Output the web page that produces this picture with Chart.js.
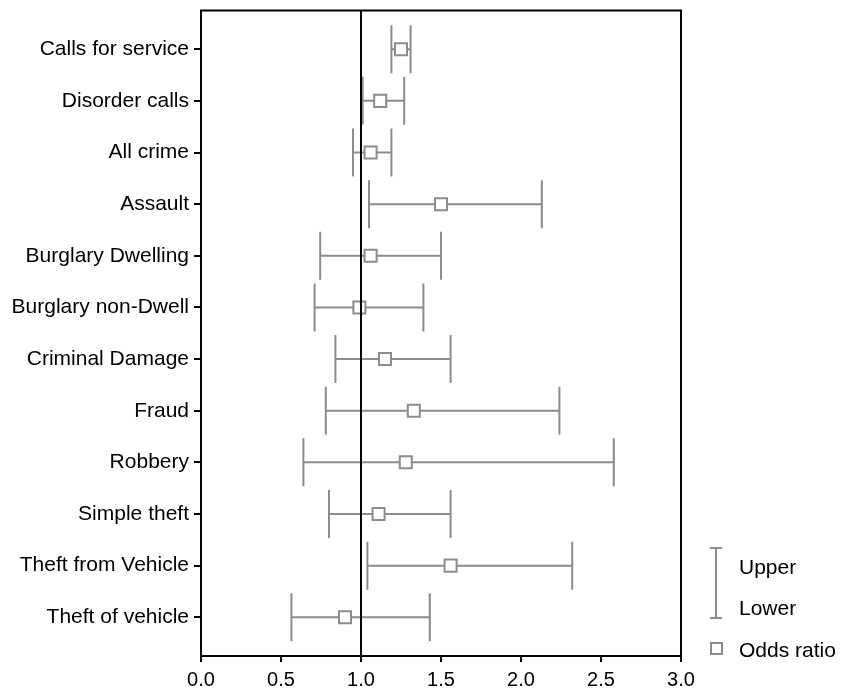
<!DOCTYPE html>
<html>
<head>
<meta charset="utf-8">
<script src="https://cdn.jsdelivr.net/npm/chart.js@4/dist/chart.umd.min.js"></script>
<style>
  html, body { margin: 0; padding: 0; background: #fff; }
  #wrap { width: 842px; height: 691px; }
</style>
</head>
<body>
<div id="wrap"><canvas id="forest"></canvas></div>
<script>
// categories, top to bottom
const categories = [
  'Calls for service', 'Disorder calls', 'All crime', 'Assault',
  'Burglary Dwelling', 'Burglary non-Dwell', 'Criminal Damage', 'Fraud',
  'Robbery', 'Simple theft', 'Theft from Vehicle', 'Theft of vehicle'
];
const oddsRatio = [1.25, 1.12, 1.06, 1.50, 1.06, 0.99, 1.15, 1.33, 1.28, 1.11, 1.56, 0.90];
const lowerCI   = [1.19, 1.01, 0.95, 1.05, 0.745, 0.71, 0.84, 0.78, 0.64, 0.80, 1.04, 0.565];
const upperCI   = [1.31, 1.27, 1.19, 2.13, 1.50, 1.39, 1.56, 2.24, 2.58, 1.56, 2.32, 1.43];
const xTicks = [0, 0.5, 1.0, 1.5, 2.0, 2.5, 3.0];
const refValue = 1.0;

const GREY = '#8c8c8c';
const FONT = '"Liberation Sans", Arial, Helvetica, sans-serif';

// error bars behind the squares
const errorBars = {
  id: 'errorBars',
  beforeDatasetsDraw(chart) {
    const { ctx, scales: { x, y } } = chart;
    ctx.save();
    ctx.strokeStyle = GREY;
    ctx.lineWidth = 2;
    const cap = 24;
    categories.forEach((c, i) => {
      const py = y.getPixelForValue(i + 1);
      const x1 = x.getPixelForValue(lowerCI[i]);
      const x2 = x.getPixelForValue(upperCI[i]);
      ctx.beginPath();
      ctx.moveTo(x1, py); ctx.lineTo(x2, py);
      ctx.moveTo(x1, py - cap); ctx.lineTo(x1, py + cap);
      ctx.moveTo(x2, py - cap); ctx.lineTo(x2, py + cap);
      ctx.stroke();
    });
    ctx.restore();
  },
  afterDatasetsDraw(chart) {
    // reference line at 1 and the frame
    const { ctx, chartArea: a, scales: { x } } = chart;
    ctx.save();
    ctx.strokeStyle = '#000';
    ctx.lineWidth = 2;
    const rx = x.getPixelForValue(refValue);
    ctx.beginPath();
    ctx.moveTo(rx, a.top); ctx.lineTo(rx, a.bottom);
    ctx.stroke();
    ctx.strokeRect(a.left, a.top, a.right - a.left, a.bottom - a.top);
    ctx.restore();
  },
  afterDraw(chart) {
    // legend
    const { ctx, chartArea: a } = chart;
    const lx = a.right + 35;
    ctx.save();
    ctx.strokeStyle = GREY;
    ctx.lineWidth = 2;
    ctx.beginPath();
    ctx.moveTo(lx, 548); ctx.lineTo(lx, 618);
    ctx.moveTo(lx - 6, 548); ctx.lineTo(lx + 6, 548);
    ctx.moveTo(lx - 6, 618); ctx.lineTo(lx + 6, 618);
    ctx.stroke();
    ctx.strokeRect(lx - 5, 643, 11, 11);
    ctx.fillStyle = '#000';
    ctx.font = '21px ' + FONT;
    ctx.textAlign = 'left';
    ctx.textBaseline = 'middle';
    ctx.fillText('Upper', lx + 23, 568);
    ctx.fillText('Lower', lx + 23, 609);
    ctx.fillText('Odds ratio', lx + 23, 651);
    ctx.restore();
  }
};

new Chart(document.getElementById('forest'), {
  type: 'scatter',
  data: {
    datasets: [{
      label: 'Odds ratio',
      data: oddsRatio.map((v, i) => ({ x: v, y: i + 1 })),
      pointStyle: 'rect',
      pointRadius: 8.5,
      pointHoverRadius: 8.5,
      borderColor: GREY,
      borderWidth: 2,
      backgroundColor: '#fff'
    }]
  },
  plugins: [errorBars],
  options: {
    responsive: true,
    maintainAspectRatio: false,
    animation: false,
    layout: { padding: { top: 8, right: 161, left: 0, bottom: 0 } },
    plugins: { legend: { display: false }, tooltip: { enabled: false } },
    scales: {
      x: {
        type: 'linear',
        min: 0,
        max: 3,
        afterBuildTicks(scale) { scale.ticks = xTicks.map(v => ({ value: v })); },
        afterFit(scale) { scale.height = 35; scale.paddingLeft = 0; scale.paddingRight = 0; },
        ticks: {
          color: '#000',
          padding: 6,
          font: { family: FONT, size: 20 },
          callback: v => Number(v).toFixed(1)
        },
        grid: { drawOnChartArea: false, drawTicks: true, tickLength: 6, color: '#000', lineWidth: 2 },
        border: { display: true, color: '#000', width: 2 }
      },
      y: {
        type: 'linear',
        reverse: true,
        min: 0.25,
        max: 12.75,
        afterBuildTicks(scale) { scale.ticks = categories.map((c, i) => ({ value: i + 1 })); },
        afterFit(scale) { scale.width = 201; scale.paddingTop = 0; scale.paddingBottom = 0; },
        ticks: {
          color: '#000',
          padding: 5,
          font: { family: FONT, size: 21 },
          callback: v => categories[v - 1]
        },
        grid: { drawOnChartArea: false, drawTicks: true, tickLength: 7, color: '#000', lineWidth: 2 },
        border: { display: true, color: '#000', width: 2 }
      }
    }
  }
});
</script>
</body>
</html>
